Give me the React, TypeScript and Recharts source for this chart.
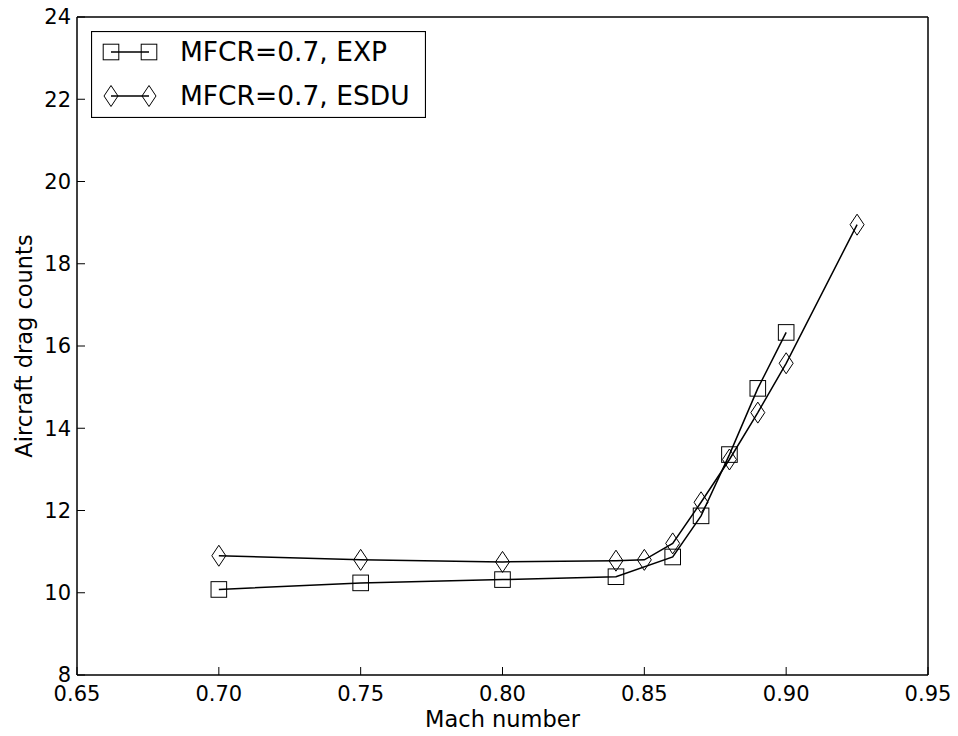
import React from 'react';
import { LineChart, Line, XAxis, YAxis, Legend } from 'recharts';

// Mach sweep, MFCR = 0.7
const expMach = [0.7, 0.75, 0.8, 0.84, 0.86, 0.87, 0.88, 0.89, 0.9];
const expDrag = [10.08, 10.24, 10.32, 10.39, 10.87, 11.87, 13.36, 14.97, 16.33];
const esduMach = [0.7, 0.75, 0.8, 0.84, 0.85, 0.86, 0.87, 0.88, 0.89, 0.9, 0.925];
const esduDrag = [10.9, 10.8, 10.75, 10.78, 10.8, 11.2, 12.2, 13.24, 14.38, 15.58, 18.95];

const xTicks = [0.65, 0.7, 0.75, 0.8, 0.85, 0.9, 0.95];
const yTicks = [8, 10, 12, 14, 16, 18, 20, 22, 24];
const seriesNames = ['MFCR=0.7, EXP', 'MFCR=0.7, ESDU'];

const expData = expMach.map((m, i) => ({ mach: m, drag: expDrag[i] }));
const esduData = esduMach.map((m, i) => ({ mach: m, drag: esduDrag[i] }));

const FONT = '"DejaVu Sans", sans-serif';
const TICK_LEN = 8;
const X_MARGIN = 11;
const Y_MARGIN = 6;
const frameLine = { stroke: '#000', strokeWidth: 1.5 };

const Square = ({ cx, cy }: any) => (
  <rect x={cx - 7.8} y={cy - 7.8} width={15.6} height={15.6} fill="none" stroke="#000" strokeWidth={1} />
);

const Diamond = ({ cx, cy }: any) => (
  <path
    d={`M${cx},${cy - 10.5} L${cx + 7},${cy} L${cx},${cy + 10.5} L${cx - 7},${cy} Z`}
    fill="none"
    stroke="#000"
    strokeWidth={1}
  />
);

const squareDot = (p: any) => <Square key={`s${p.index}`} cx={p.cx} cy={p.cy} />;
const diamondDot = (p: any) => <Diamond key={`d${p.index}`} cx={p.cx} cy={p.cy} />;

// inward tick + label, matplotlib classic look
const BottomTick = ({ x, y, payload }: any) => (
  <g>
    <line x1={x} x2={x} y1={y - X_MARGIN} y2={y - X_MARGIN - TICK_LEN} stroke="#000" strokeWidth={1} />
    <text x={x} y={y} dy="0.71em" textAnchor="middle" fontFamily={FONT} fontSize={21} fill="#000">
      {Number(payload.value).toFixed(2)}
    </text>
  </g>
);

const LeftTick = ({ x, y, payload }: any) => (
  <g>
    <line x1={x + Y_MARGIN} x2={x + Y_MARGIN + TICK_LEN} y1={y} y2={y} stroke="#000" strokeWidth={1} />
    <text x={x} y={y} dy="0.355em" textAnchor="end" fontFamily={FONT} fontSize={21} fill="#000">
      {payload.value}
    </text>
  </g>
);

const XLabel = ({ viewBox }: any) => (
  <text x={viewBox.x + viewBox.width / 2} y={viewBox.y + 52} textAnchor="middle" fontFamily={FONT} fontSize={22.5} fill="#000">
    Mach number
  </text>
);

const YLabel = ({ viewBox }: any) => {
  const cx = viewBox.x + 24;
  const cy = viewBox.y + viewBox.height / 2;
  return (
    <text
      x={cx}
      y={cy}
      dy="0.355em"
      transform={`rotate(-90, ${cx}, ${cy})`}
      textAnchor="middle"
      fontFamily={FONT}
      fontSize={22.5}
      fill="#000"
    >
      Aircraft drag counts
    </text>
  );
};

const LegendBox = () => (
  <svg width={335} height={87} style={{ display: 'block' }}>
    <rect x={0.5} y={0.5} width={334} height={86} fill="#fff" stroke="#000" strokeWidth={1.2} />
    <line x1={20} x2={58} y1={21} y2={21} stroke="#000" strokeWidth={1.5} />
    <Square cx={20} cy={21} />
    <Square cx={58} cy={21} />
    <text x={89} y={21} dy="0.355em" fontFamily={FONT} fontSize={26.5} fill="#000">
      {seriesNames[0]}
    </text>
    <line x1={20} x2={58} y1={65} y2={65} stroke="#000" strokeWidth={1.5} />
    <Diamond cx={20} cy={65} />
    <Diamond cx={58} cy={65} />
    <text x={89} y={65} dy="0.355em" fontFamily={FONT} fontSize={26.5} fill="#000">
      {seriesNames[1]}
    </text>
  </svg>
);

export default function App() {
  return (
    <div style={{ position: 'absolute', left: 0, top: 0, width: 958, height: 736, background: '#fff' }}>
      <LineChart width={958} height={736} margin={{ top: 17, right: 30, left: 0, bottom: 0 }}>
        <XAxis
          xAxisId="main"
          dataKey="mach"
          type="number"
          domain={[0.65, 0.95]}
          ticks={xTicks}
          height={61}
          tickSize={0}
          tickMargin={X_MARGIN}
          tickLine={false}
          tick={<BottomTick />}
          axisLine={frameLine}
          interval={0}
          allowDataOverflow
          label={<XLabel />}
        />
        {/* mirrored top/right axes only draw the frame and inward ticks */}
        <XAxis
          xAxisId="top"
          dataKey="mach"
          orientation="top"
          mirror
          type="number"
          domain={[0.65, 0.95]}
          ticks={xTicks}
          height={20}
          tickSize={TICK_LEN}
          tick={false}
          tickLine={{ stroke: '#000', strokeWidth: 1 }}
          axisLine={frameLine}
          interval={0}
          allowDataOverflow
        />
        <YAxis
          yAxisId="main"
          type="number"
          domain={[8, 24]}
          ticks={yTicks}
          width={77}
          tickSize={0}
          tickMargin={Y_MARGIN}
          tickLine={false}
          tick={<LeftTick />}
          axisLine={frameLine}
          interval={0}
          allowDataOverflow
          label={<YLabel />}
        />
        <YAxis
          yAxisId="right"
          orientation="right"
          mirror
          type="number"
          domain={[8, 24]}
          ticks={yTicks}
          width={20}
          tickSize={TICK_LEN}
          tick={false}
          tickLine={{ stroke: '#000', strokeWidth: 1 }}
          axisLine={frameLine}
          interval={0}
          allowDataOverflow
        />
        <Legend
          layout="vertical"
          align="center"
          verticalAlign="middle"
          content={<LegendBox />}
          wrapperStyle={{ position: 'absolute', left: 91, top: 31, width: 335, height: 87 }}
        />
        <Line
          xAxisId="top"
          yAxisId="right"
          data={esduData}
          dataKey="drag"
          stroke="none"
          dot={false}
          activeDot={false}
          legendType="none"
          isAnimationActive={false}
        />
        <Line
          xAxisId="main"
          yAxisId="main"
          data={expData}
          dataKey="drag"
          name={seriesNames[0]}
          stroke="#000"
          strokeWidth={1.5}
          dot={squareDot}
          activeDot={false}
          isAnimationActive={false}
        />
        <Line
          xAxisId="main"
          yAxisId="main"
          data={esduData}
          dataKey="drag"
          name={seriesNames[1]}
          stroke="#000"
          strokeWidth={1.5}
          dot={diamondDot}
          activeDot={false}
          isAnimationActive={false}
        />
      </LineChart>
    </div>
  );
}
